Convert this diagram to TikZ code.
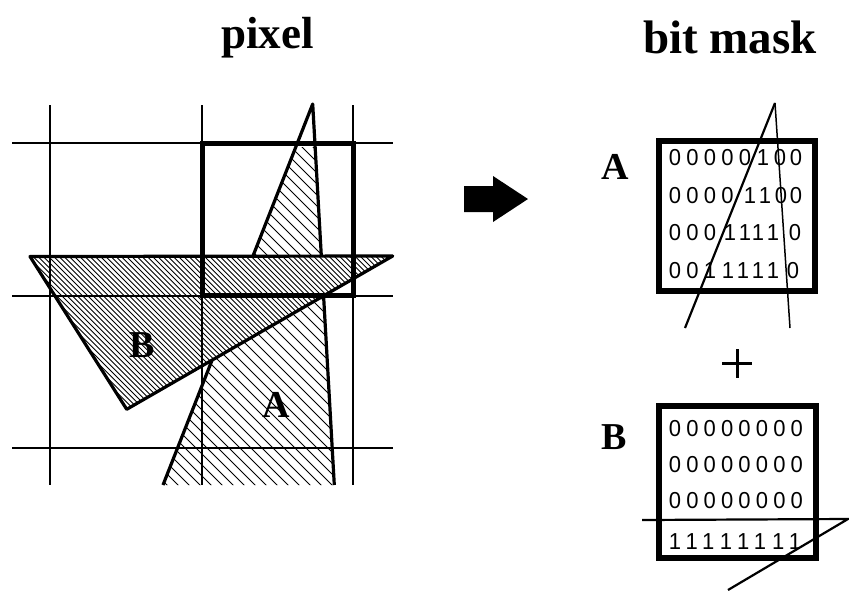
\documentclass[tikz,border=0pt]{standalone}
\usepackage{fontspec}
\setmainfont{Liberation Serif}
\newfontfamily\digitfont{Liberation Sans}
\begin{document}
\begin{tikzpicture}[x=1pt,y=-1pt,
  gridline/.style={line width=1.6pt},
  edge/.style={line width=3.2pt, line join=round},
  hatchline/.style={line width=0.9pt},
  pixbox/.style={line width=5pt},
  maskbox/.style={line width=6pt},
  thinline/.style={line width=2.2pt},
  title/.style={font=\fontsize{45}{50}\selectfont\bfseries, inner sep=0pt},
  lbl/.style={font=\fontsize{38}{44}\selectfont\bfseries, inner sep=0pt},
  bit/.style={font=\digitfont\fontsize{22}{26}\selectfont, inner sep=0pt, yscale=1.05},
]
\useasboundingbox (0,0) rectangle (849,590);

% titles
\node[title, anchor=base] (tpixel) at (267.5,48) {pixel};
\node[title, anchor=base, font=\fontsize{47}{52}\selectfont\bfseries] (tmask) at (730,53) {bit mask};

% triangle A (left)
\coordinate (Aapex) at (312.7,104);
\coordinate (Abr) at (334.3,485);
\coordinate (Abl) at (163,485);
\begin{scope}
  \clip (Aapex) -- (Abr) -- (Abl) -- cycle;
  \clip (0,147) rectangle (849,590);
  \foreach \k in {-240,-229,...,360} \draw[hatchline] (\k,100) -- ++(400,400);
\end{scope}
\draw[edge] (Abl) -- (Aapex) -- (Abr);

% triangle B (left)
\coordinate (Bl) at (30,256.5);
\coordinate (Br) at (392.7,256);
\coordinate (Bb) at (126.7,409.3);
\fill[white] (Bl) -- (Br) -- (Bb) -- cycle;
\begin{scope}
  \clip (Bl) -- (Br) -- (Bb) -- cycle;
  \foreach \k in {-140,-134.8,...,400} \draw[hatchline] (\k,250) -- ++(200,200);
\end{scope}

% grid
\foreach \gx in {50,202,353} \draw[gridline] (\gx,105) -- (\gx,485);
\foreach \gy in {143,296,448} \draw[gridline] (12,\gy) -- (393,\gy);

\draw[edge] (Bl) -- (Br) -- (Bb) -- cycle;
\draw[pixbox] (202,143) rectangle (353,295.5);

\node[lbl] (labB) at (141.7,345) {B};
\node[lbl] (labA) at (276.7,405) {A};

% arrow
\fill (464,186) -- (493,186) -- (493,176) -- (528,199) -- (493,222) -- (493,212) -- (464,212) -- cycle;

% bit mask A
\node[lbl] (mA) at (615,167) {A};
\draw[maskbox] (659,141) rectangle (815,291);
\foreach \x/\d in {675/0,692.5/0,710/0,727.5/0,745/0,763/1,780/0,796/0}
  \node[bit] at (\x,158) {\d};
\foreach \x/\d in {675/0,692.5/0,710/0,727.5/0,750/1,765/1,781/0,796/0}
  \node[bit] at (\x,195.5) {\d};
\foreach \x/\d in {675/0,692.5/0,710/0,730/1,745/1,758/1,773/1,795/0}
  \node[bit] at (\x,233) {\d};
\foreach \x/\d in {675/0,692.5/0,710/1,728/1,743/1,758/1,773/1,793/0}
  \node[bit] at (\x,270.5) {\d};
\coordinate (mAapex) at (775,103);
\coordinate (mAl) at (685,328);
\coordinate (mAr) at (790,328);
\draw[thinline] (mAl) -- (mAapex);
\draw[line width=1.5pt] (mAapex) -- (mAr);

% plus
\draw[line width=3pt] (722,363) -- (752,363) (737,349) -- (737,378);

% bit mask B
\node[lbl] (mB) at (614,437) {B};
\draw[maskbox] (659,406) rectangle (816,558);
\foreach \ry in {429,465,501}
  \foreach \i in {0,...,7}
    \node[bit] at (675+17.4*\i,\ry) {0};
\foreach \x in {675,691.7,708.3,726,743.3,760,778.3,795}
  \node[bit] at (\x,542) {1};
\coordinate (mBl) at (642,520);
\coordinate (mBr) at (848,519);
\coordinate (mBb) at (728,590);
\draw[thinline] (mBl) -- (mBr) -- (mBb);
\end{tikzpicture}
\end{document}
